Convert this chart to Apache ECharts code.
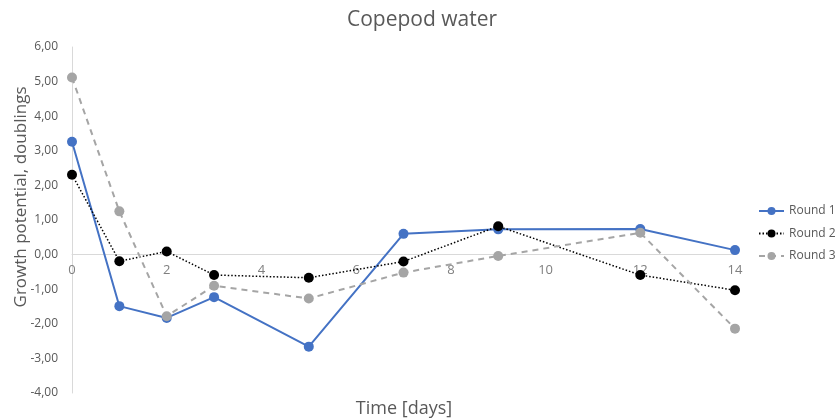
<!DOCTYPE html>
<html><head><meta charset="utf-8">
<script src="https://cdn.jsdelivr.net/npm/echarts@6/dist/echarts.min.js"></script>
<style>html,body{margin:0;padding:0;background:#fff}#c{width:837px;height:419px}</style>
</head><body><div id="c"></div>
<script>
const days = [0, 1, 2, 3, 5, 7, 9, 12, 14];
const round1 = [3.26, -1.49, -1.83, -1.23, -2.66, 0.60, 0.73, 0.74, 0.13];
const round2 = [2.31, -0.19, 0.09, -0.59, -0.67, -0.20, 0.82, -0.59, -1.03];
const round3 = [5.12, 1.25, -1.78, -0.90, -1.27, -0.52, -0.04, 0.63, -2.14];
const seriesNames = ['Round 1', 'Round 2', 'Round 3'];
const yMin = -4, yMax = 6;

const pair = arr => days.map((d, i) => [d, arr[i]]);
const font = '"Open Sans", "Liberation Sans", sans-serif';
const gridTop = 47, gridBottom = 26, H = 419;
const gridH = H - gridTop - gridBottom;
// x axis crosses the y axis at value 0
const xAxisOffset = -gridH * (0 - yMin) / (yMax - yMin);

const chart = echarts.init(document.getElementById('c'));
chart.setOption({
  animation: false,
  title: [
    {text: 'Copepod water', left: 417, top: 5, textAlign: 'center', textStyle: {fontFamily: font, fontSize: 21, fontWeight: 'normal', color: '#595959'}},
    {text: 'Time [days]', left: 399, top: 395, textAlign: 'center', textStyle: {fontFamily: font, fontSize: 18, fontWeight: 'normal', color: '#595959'}}
  ],
  graphic: [{
    type: 'text', x: 21, y: 197, rotation: Math.PI / 2,
    style: {text: 'Growth potential, doublings', font: '17px ' + font, fill: '#595959', align: 'center', verticalAlign: 'middle'}
  }],
  grid: {left: 72, right: 102, top: gridTop, bottom: gridBottom, containLabel: false, outerBoundsMode: 'none'},
  legend: {
    orient: 'vertical', left: 758, top: 205, padding: 0, itemGap: 10.5, itemWidth: 25, itemHeight: 10,
    textStyle: {fontFamily: font, fontSize: 12, color: '#595959'},
    data: seriesNames
  },
  xAxis: {
    type: 'value', min: 0, max: 14, interval: 2, offset: xAxisOffset,
    axisLine: {onZero: false, lineStyle: {color: '#d9d9d9', width: 1}},
    axisTick: {show: false},
    splitLine: {show: false},
    axisLabel: {fontFamily: font, fontSize: 13, color: '#7f7f7f', margin: 9}
  },
  yAxis: {
    type: 'value', min: yMin, max: yMax, interval: 1,
    axisLine: {show: true, onZero: false, lineStyle: {color: '#d9d9d9'}},
    axisTick: {show: false},
    splitLine: {show: false},
    axisLabel: {fontFamily: font, fontSize: 12, color: '#595959', margin: 14,
      formatter: v => v.toFixed(2).replace('.', ',')}
  },
  series: [
    {name: seriesNames[0], type: 'line', data: pair(round1), symbol: 'circle', symbolSize: 10,
     itemStyle: {color: '#4472C4'}, lineStyle: {color: '#4472C4', width: 2}},
    {name: seriesNames[1], type: 'line', data: pair(round2), symbol: 'circle', symbolSize: 10,
     itemStyle: {color: '#000000'}, lineStyle: {color: '#000000', width: 1.5, type: [1.5, 2]}},
    {name: seriesNames[2], type: 'line', data: pair(round3), symbol: 'circle', symbolSize: 10,
     itemStyle: {color: '#A5A5A5'}, lineStyle: {color: '#A5A5A5', width: 2, type: [6, 5]}}
  ]
});
</script></body></html>
